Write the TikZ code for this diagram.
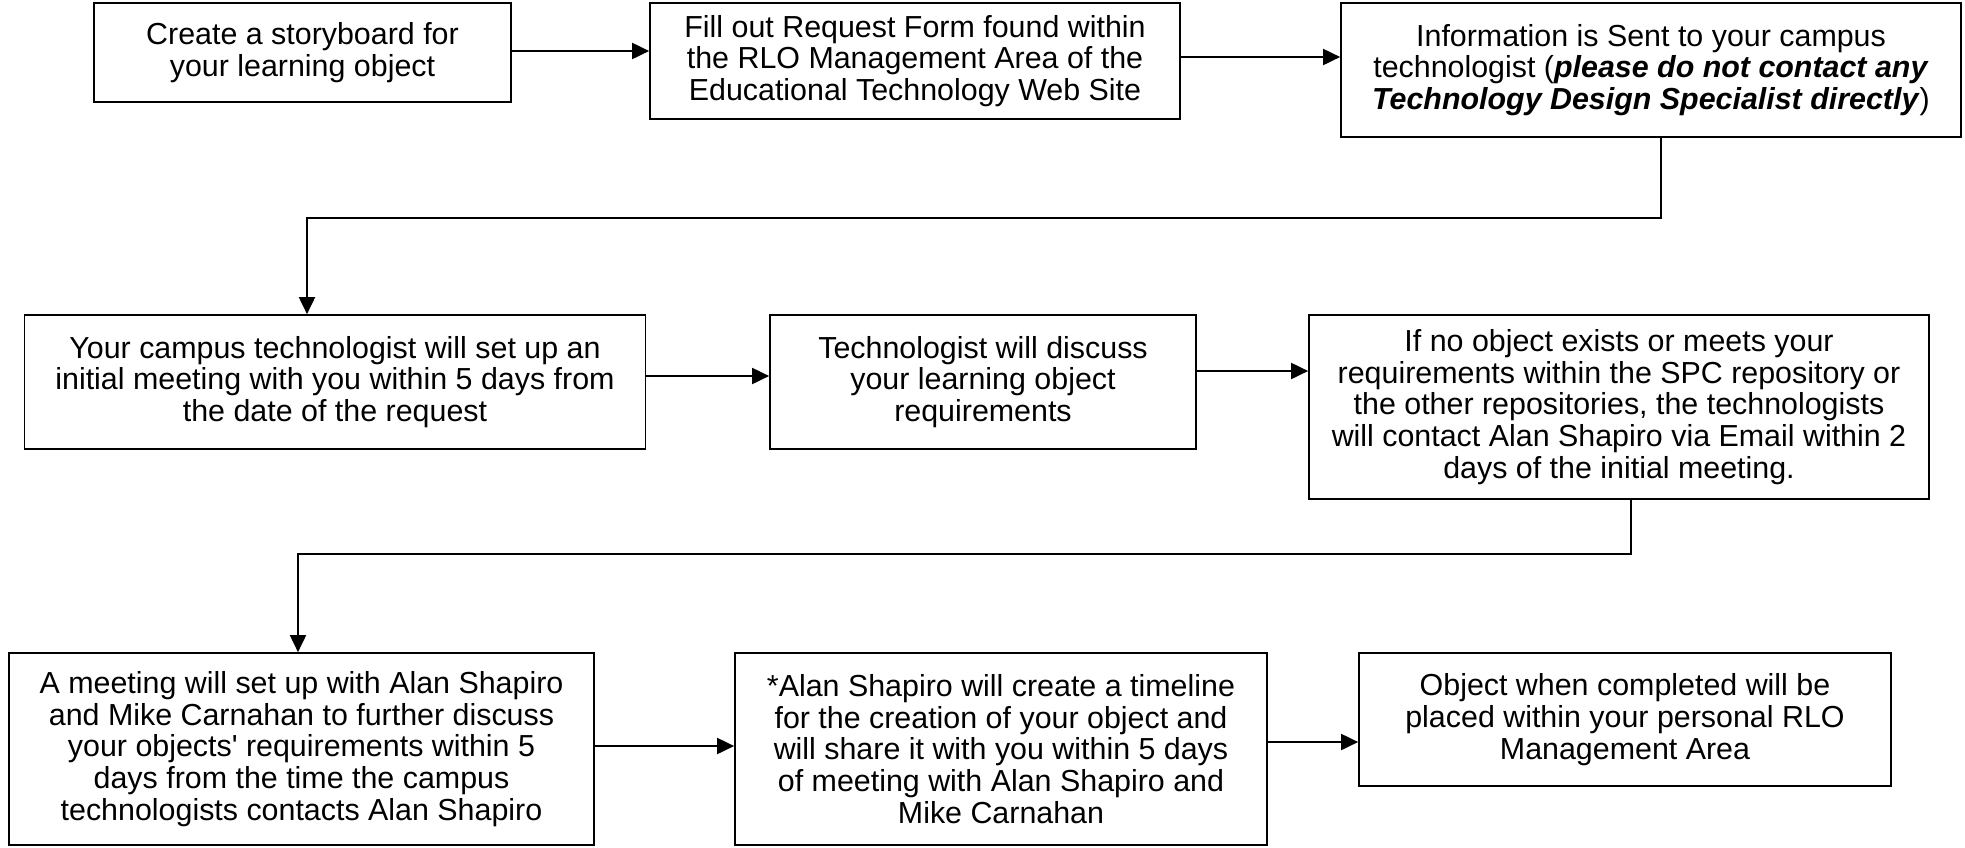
\documentclass[tikz,border=0pt]{standalone}
\usepackage{fontspec}
\setmainfont{Liberation Sans}
\usetikzlibrary{arrows.meta}
\begin{document}
\begin{tikzpicture}[x=0.5pt,y=-0.5pt,
  box/.style={draw=black, line width=0.85pt, align=center, inner sep=0pt,
    font=\fontsize{15.2pt}{15.9pt}\selectfont},
  arr/.style={draw=black, line width=0.95pt, -{Triangle[length=8.5pt,width=8pt]}},
  ln/.style={draw=black, line width=0.95pt}]
\useasboundingbox (0,0) rectangle (1965,847);
\fill[white] (0,0) rectangle (1965,847);

\node[box, minimum width=208.5pt, minimum height=49.5pt] (b1) at (302.5,52.5)
  {Create a storyboard for\\your learning object};
\node[box, minimum width=265pt, minimum height=58pt] (b2) at (915,61)
  {Fill out Request Form found within\\the RLO Management Area of the\\Educational Technology Web Site};
\node[box, minimum width=310pt, minimum height=67pt] (b3) at (1651,70)
  {Information is Sent to your campus\\technologist (\textbf{\textit{please do not contact any}}\\\textbf{\textit{Technology Design Specialist directly}})};

\node[box, minimum width=310.5pt, minimum height=67pt] (b4) at (335,382)
  {Your campus technologist will set up an\\initial meeting with you within 5 days from\\the date of the request};
\node[box, minimum width=213pt, minimum height=67pt] (b5) at (983,382)
  {Technologist will discuss\\your learning object\\requirements};
\node[box, minimum width=310pt, minimum height=92pt] (b6) at (1619,407)
  {If no object exists or meets your\\requirements within the SPC repository or\\the other repositories, the technologists\\will contact Alan Shapiro via Email within 2\\days of the initial meeting.};

\node[box, minimum width=292.5pt, minimum height=96pt] (b7) at (301.5,749)
  {A meeting will set up with Alan Shapiro\\and Mike Carnahan to further discuss\\your objects\textquotesingle\ requirements within 5\\days from the time the campus\\technologists contacts Alan Shapiro};
\node[box, minimum width=266pt, minimum height=96pt] (b8) at (1001,749)
  {*Alan Shapiro will create a timeline\\for the creation of your object and\\will share it with you within 5 days\\of meeting with Alan Shapiro and\\Mike Carnahan};
\node[box, minimum width=266pt, minimum height=66.5pt] (b9) at (1625,719.5)
  {Object when completed will be\\placed within your personal RLO\\Management Area};

\coordinate (k1) at (1661,218);
\coordinate (k2) at (307,218);
\coordinate (k3) at (1631,554);
\coordinate (k4) at (298,554);

\draw[arr] (b1.east |- 0,51) -- (b2.west |- 0,51);
\draw[arr] (b2.east |- 0,57) -- (b3.west |- 0,57);
\draw[arr] (b3.south -| k1) -- (k1) -- (k2) -- (b4.north -| k2);

\draw[arr] (b4.east |- 0,376) -- (b5.west |- 0,376);
\draw[arr] (b5.east |- 0,371) -- (b6.west |- 0,371);
\draw[arr] (b6.south -| k3) -- (k3) -- (k4) -- (b7.north -| k4);

\draw[arr] (b7.east |- 0,746) -- (b8.west |- 0,746);
\draw[arr] (b8.east |- 0,742) -- (b9.west |- 0,742);
\end{tikzpicture}
\end{document}
